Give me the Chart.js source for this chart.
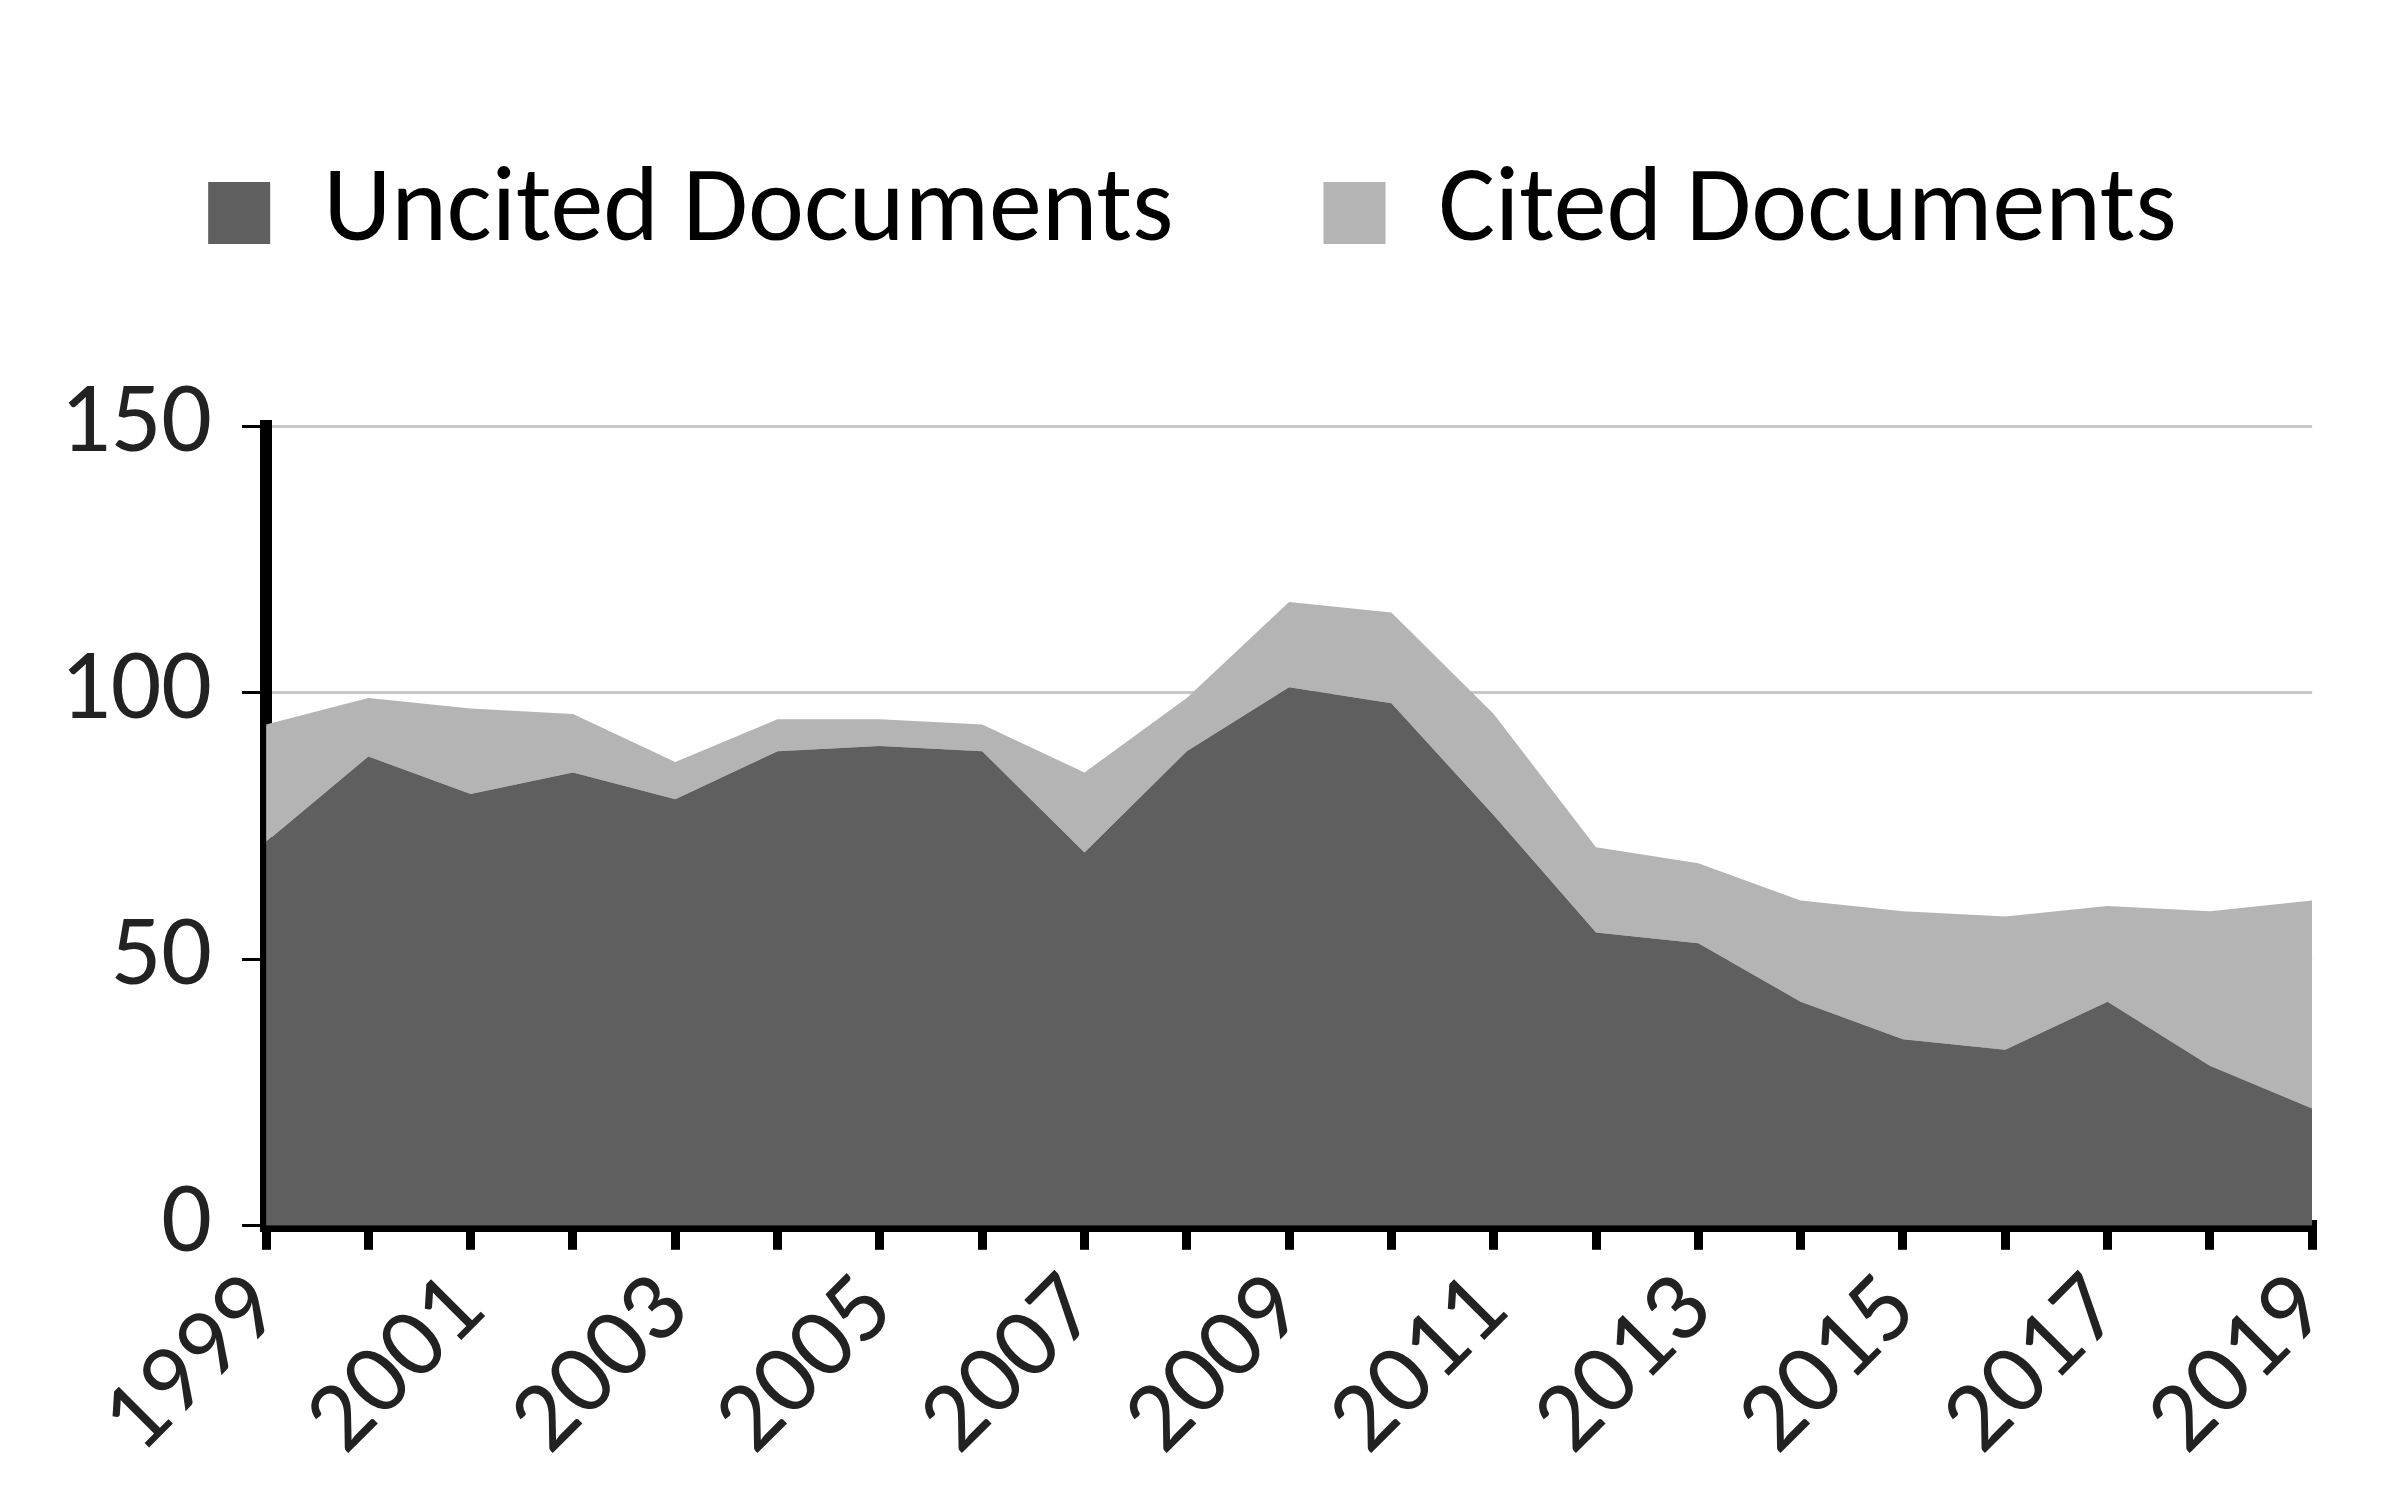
<!DOCTYPE html>
<html>
<head>
<meta charset="utf-8">
<script src="https://cdn.jsdelivr.net/npm/chart.js@4"></script>
<style>
  html, body { margin: 0; padding: 0; background: #fff; }
  #wrap { width: 2400px; height: 1504px; }
</style>
</head>
<body>
<div id="wrap"><canvas id="chart" width="2400" height="1504"></canvas></div>
<script>
const years = ["1999","2000","2001","2002","2003","2004","2005","2006","2007","2008","2009",
  "2010","2011","2012","2013","2014","2015","2016","2017","2018","2019"];
const uncited = [72, 88, 81, 85, 80, 89, 90, 89, 70, 89, 101, 98, 77, 55, 53, 42, 35, 33, 42, 30, 22];
const cited = [22, 11, 16, 11, 7, 6, 5, 5, 15, 10, 16, 17, 19, 16, 15, 19, 24, 25, 18, 29, 39];
const yTicks = [0, 50, 100, 150];

const font = "Carlito, 'Liberation Sans', Arial, sans-serif";

// push the plot area down below the legend, like the original
const legendGap = {
  id: "legendGap",
  beforeInit(chart) {
    const fit = chart.legend.fit;
    chart.legend.fit = function () {
      fit.bind(chart.legend)();
      this.height += 150;
    };
  }
};

new Chart(document.getElementById("chart"), {
  type: "line",
  data: {
    labels: years,
    datasets: [
      { label: "Uncited Documents", data: uncited, fill: "origin",
        backgroundColor: "#5f5f5f", borderWidth: 0, pointRadius: 0, tension: 0 },
      { label: "Cited Documents", data: cited, fill: "-1",
        backgroundColor: "#b4b4b4", borderWidth: 0, pointRadius: 0, tension: 0 }
    ]
  },
  options: {
    responsive: false,
    animation: false,
    devicePixelRatio: 1,
    layout: { padding: { left: 30, right: 45, top: 10, bottom: 20 } },
    plugins: {
      tooltip: { enabled: false },
      legend: {
        position: "top",
        labels: {
          color: "#333",
          font: { family: font, size: 106 },
          boxWidth: 62, boxHeight: 62, padding: 150,
          generateLabels: chart => chart.data.datasets.map((d, i) => ({
            text: d.label, fillStyle: d.backgroundColor, strokeStyle: d.backgroundColor,
            lineWidth: 0, datasetIndex: i
          }))
        }
      }
    },
    scales: {
      x: {
        offset: false,
        grid: { drawOnChartArea: false, color: "#000", tickColor: "#000", lineWidth: 9, tickLength: 24 },
        border: { color: "#000", width: 12 },
        ticks: {
          autoSkip: false, maxRotation: 45, minRotation: 45,
          color: "#222", font: { family: font, size: 100 },
          callback: (v, i) => (i % 2 === 0 ? years[i] : "")
        }
      },
      y: {
        stacked: true,
        min: 0, max: 150,
        afterBuildTicks: axis => { axis.ticks = yTicks.map(v => ({ value: v })); },
        grid: { color: "#c8c8c8", lineWidth: 3, tickColor: "#000", tickLength: 24 },
        border: { color: "#000", width: 12 },
        ticks: { color: "#222", font: { family: font, size: 100 }, padding: 30 }
      }
    }
  },
  plugins: [legendGap]
});
</script>
</body>
</html>
